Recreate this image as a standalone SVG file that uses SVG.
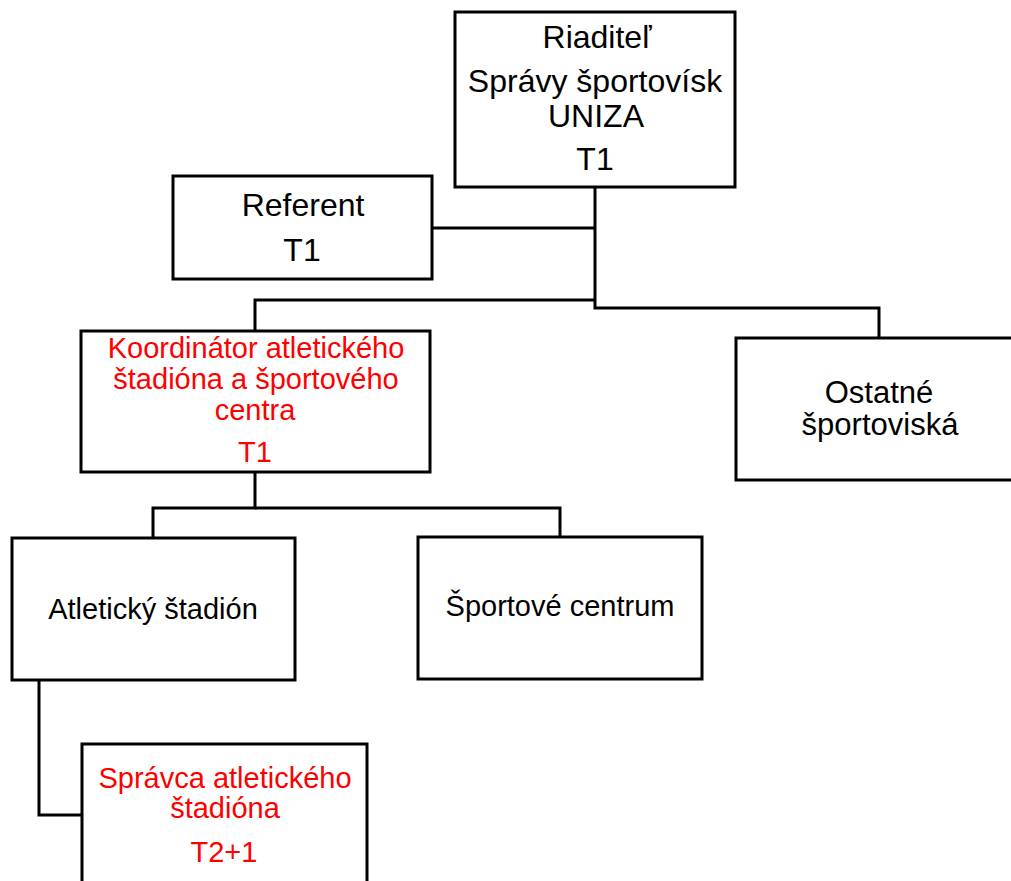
<svg xmlns="http://www.w3.org/2000/svg" width="1011" height="881" viewBox="0 0 1011 881">
<style>
.box{fill:#fff;stroke:#000;stroke-width:3}
.wire{fill:none;stroke:#000;stroke-width:3}
text{font-family:"Liberation Sans",Arial,sans-serif;text-anchor:middle;fill:#000}
.big{font-size:32px}
.mid{font-size:31px}
.sm{font-size:29px}
.red{fill:#ff0000}
</style>
<rect width="1011" height="881" fill="#fff"/>
<g id="connectors">
<polyline class="wire" points="595,187 595,308 879,308 879,338"/>
<polyline class="wire" points="432,228 595,228"/>
<polyline class="wire" points="595,300 255,300 255,331"/>
<polyline class="wire" points="255,472 255,508 153,508 153,538"/>
<polyline class="wire" points="255,508 560,508 560,537"/>
<polyline class="wire" points="39,680 39,815 82,815"/>
</g>
<g id="riaditel">
<rect class="box" x="455" y="12" width="280" height="175"/>
<text class="big" x="597" y="48">Riaditeľ</text>
<text class="big" x="595" y="92">Správy športovísk</text>
<text class="big" x="596" y="127">UNIZA</text>
<text class="big" x="595" y="170">T1</text>
</g>
<g id="referent">
<rect class="box" x="173" y="176" width="259" height="103"/>
<text class="big" x="303" y="216">Referent</text>
<text class="big" x="302" y="261">T1</text>
</g>
<g id="koordinator">
<rect class="box" x="81" y="331" width="349" height="141"/>
<text class="sm red" x="256" y="358">Koordinátor atletického</text>
<text class="sm red" x="256" y="389">štadióna a športového</text>
<text class="sm red" x="255" y="420">centra</text>
<text class="sm red" x="255" y="462">T1</text>
</g>
<g id="ostatne">
<rect class="box" x="736" y="338" width="290" height="142"/>
<text class="mid" x="879" y="403">Ostatné</text>
<text class="mid" x="880" y="435">športoviská</text>
</g>
<g id="atleticky">
<rect class="box" x="12" y="538" width="283" height="142"/>
<text class="sm" x="153" y="619">Atletický štadión</text>
</g>
<g id="sportove">
<rect class="box" x="418" y="537" width="284" height="142"/>
<text class="sm" x="560" y="616">Športové centrum</text>
</g>
<g id="spravca">
<rect class="box" x="82" y="744" width="285" height="160"/>
<text class="sm red" x="225" y="788">Správca atletického</text>
<text class="sm red" x="225" y="818">štadióna</text>
<text class="sm red" x="224" y="862">T2+1</text>
</g>
</svg>
